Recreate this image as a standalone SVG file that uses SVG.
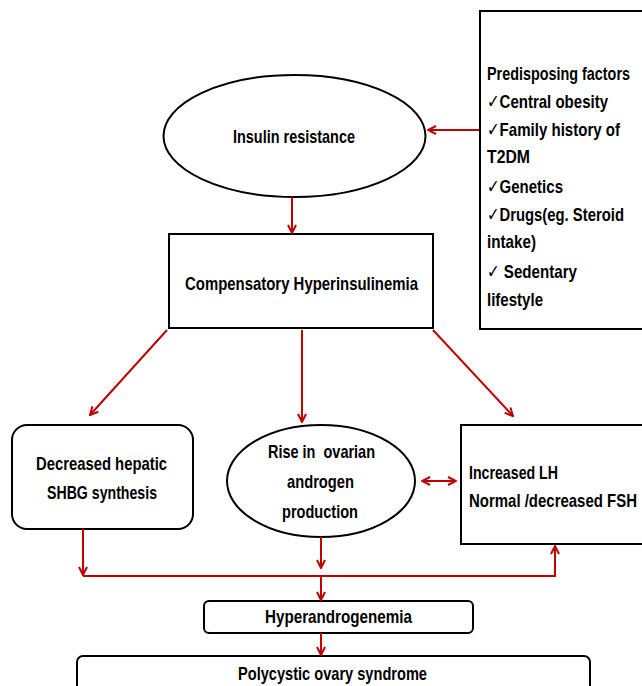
<svg xmlns="http://www.w3.org/2000/svg" width="642" height="686" viewBox="0 0 642 686">
<defs>
<style>
.box{fill:#fff;stroke:#000;stroke-width:2}
.t{font-family:"Liberation Sans",Arial,"DejaVu Sans",sans-serif;font-weight:bold;font-size:19px;fill:#000;white-space:pre}
.c{stroke:#c00000;stroke-width:2;fill:none}
</style>
<marker id="ah" viewBox="0 0 10 10" refX="9" refY="5" markerWidth="10" markerHeight="10" markerUnits="userSpaceOnUse" orient="auto-start-reverse">
<path d="M1,1 L9,5 L1,9" fill="none" stroke="#c00000" stroke-width="2"/>
</marker>
</defs>
<rect width="642" height="686" fill="#fff"/>

<g id="predisposing">
<rect class="box" x="480" y="11" width="166" height="318"/>
<text class="t" x="487" y="80" textLength="143" lengthAdjust="spacingAndGlyphs">Predisposing factors</text>
<text class="t" x="487" y="108" textLength="121" lengthAdjust="spacingAndGlyphs">✓Central obesity</text>
<text class="t" x="487" y="136" textLength="133" lengthAdjust="spacingAndGlyphs">✓Family history of</text>
<text class="t" x="487" y="163" textLength="43" lengthAdjust="spacingAndGlyphs">T2DM</text>
<text class="t" x="487" y="193" textLength="76" lengthAdjust="spacingAndGlyphs">✓Genetics</text>
<text class="t" x="487" y="221" textLength="137" lengthAdjust="spacingAndGlyphs">✓Drugs(eg. Steroid</text>
<text class="t" x="487" y="248" textLength="49" lengthAdjust="spacingAndGlyphs">intake)</text>
<text class="t" x="487" y="278" textLength="90" lengthAdjust="spacingAndGlyphs">✓ Sedentary</text>
<text class="t" x="487" y="306" textLength="56" lengthAdjust="spacingAndGlyphs">lifestyle</text>
</g>

<g id="insulin">
<ellipse class="box" cx="294.5" cy="136" rx="131" ry="61"/>
<text class="t" x="233" y="143" textLength="122" lengthAdjust="spacingAndGlyphs">Insulin resistance</text>
</g>

<g id="hyperinsulinemia">
<rect class="box" x="169" y="234" width="264" height="94"/>
<text class="t" x="185" y="290" textLength="233" lengthAdjust="spacingAndGlyphs">Compensatory Hyperinsulinemia</text>
</g>

<g id="shbg">
<rect class="box" x="12" y="425" width="181" height="104" rx="15"/>
<text class="t" x="36" y="470" textLength="131" lengthAdjust="spacingAndGlyphs">Decreased hepatic</text>
<text class="t" x="47" y="499" textLength="110" lengthAdjust="spacingAndGlyphs">SHBG synthesis</text>
</g>

<g id="androgen">
<ellipse class="box" cx="321" cy="481" rx="94" ry="56"/>
<text class="t" x="268" y="458" textLength="107" lengthAdjust="spacingAndGlyphs">Rise in  ovarian</text>
<text class="t" x="287" y="488" textLength="67" lengthAdjust="spacingAndGlyphs">androgen</text>
<text class="t" x="282" y="518" textLength="76" lengthAdjust="spacingAndGlyphs">production</text>
</g>

<g id="lhfsh">
<rect class="box" x="461" y="425" width="190" height="119"/>
<text class="t" x="469" y="479" textLength="89" lengthAdjust="spacingAndGlyphs">Increased LH</text>
<text class="t" x="469" y="507" textLength="168" lengthAdjust="spacingAndGlyphs">Normal /decreased FSH</text>
</g>

<g id="hyperandrogenemia">
<rect class="box" x="204" y="601" width="269" height="32" rx="5"/>
<text class="t" x="265" y="623" textLength="147" lengthAdjust="spacingAndGlyphs">Hyperandrogenemia</text>
</g>

<g id="pcos">
<rect class="box" x="77" y="656" width="513" height="50" rx="6"/>
<text class="t" x="238" y="680" textLength="189" lengthAdjust="spacingAndGlyphs">Polycystic ovary syndrome</text>
</g>

<g id="connectors">
<line class="c" x1="479" y1="130" x2="428" y2="130" marker-end="url(#ah)"/>
<line class="c" x1="292" y1="197" x2="292" y2="233" marker-end="url(#ah)"/>
<line class="c" x1="167" y1="330" x2="90" y2="415" marker-end="url(#ah)"/>
<line class="c" x1="302" y1="330" x2="302" y2="422" marker-end="url(#ah)"/>
<line class="c" x1="433" y1="330" x2="513" y2="416" marker-end="url(#ah)"/>
<line class="c" x1="422" y1="481" x2="456" y2="481" marker-start="url(#ah)" marker-end="url(#ah)"/>
<line class="c" x1="83" y1="529" x2="83" y2="575" marker-end="url(#ah)"/>
<line class="c" x1="321" y1="537" x2="321" y2="568" marker-end="url(#ah)"/>
<polyline class="c" points="83,576 555,576 555,546" marker-end="url(#ah)"/>
<line class="c" x1="321" y1="576" x2="321" y2="600" marker-end="url(#ah)"/>
<line class="c" x1="321" y1="633" x2="321" y2="655" marker-end="url(#ah)"/>
</g>
</svg>
